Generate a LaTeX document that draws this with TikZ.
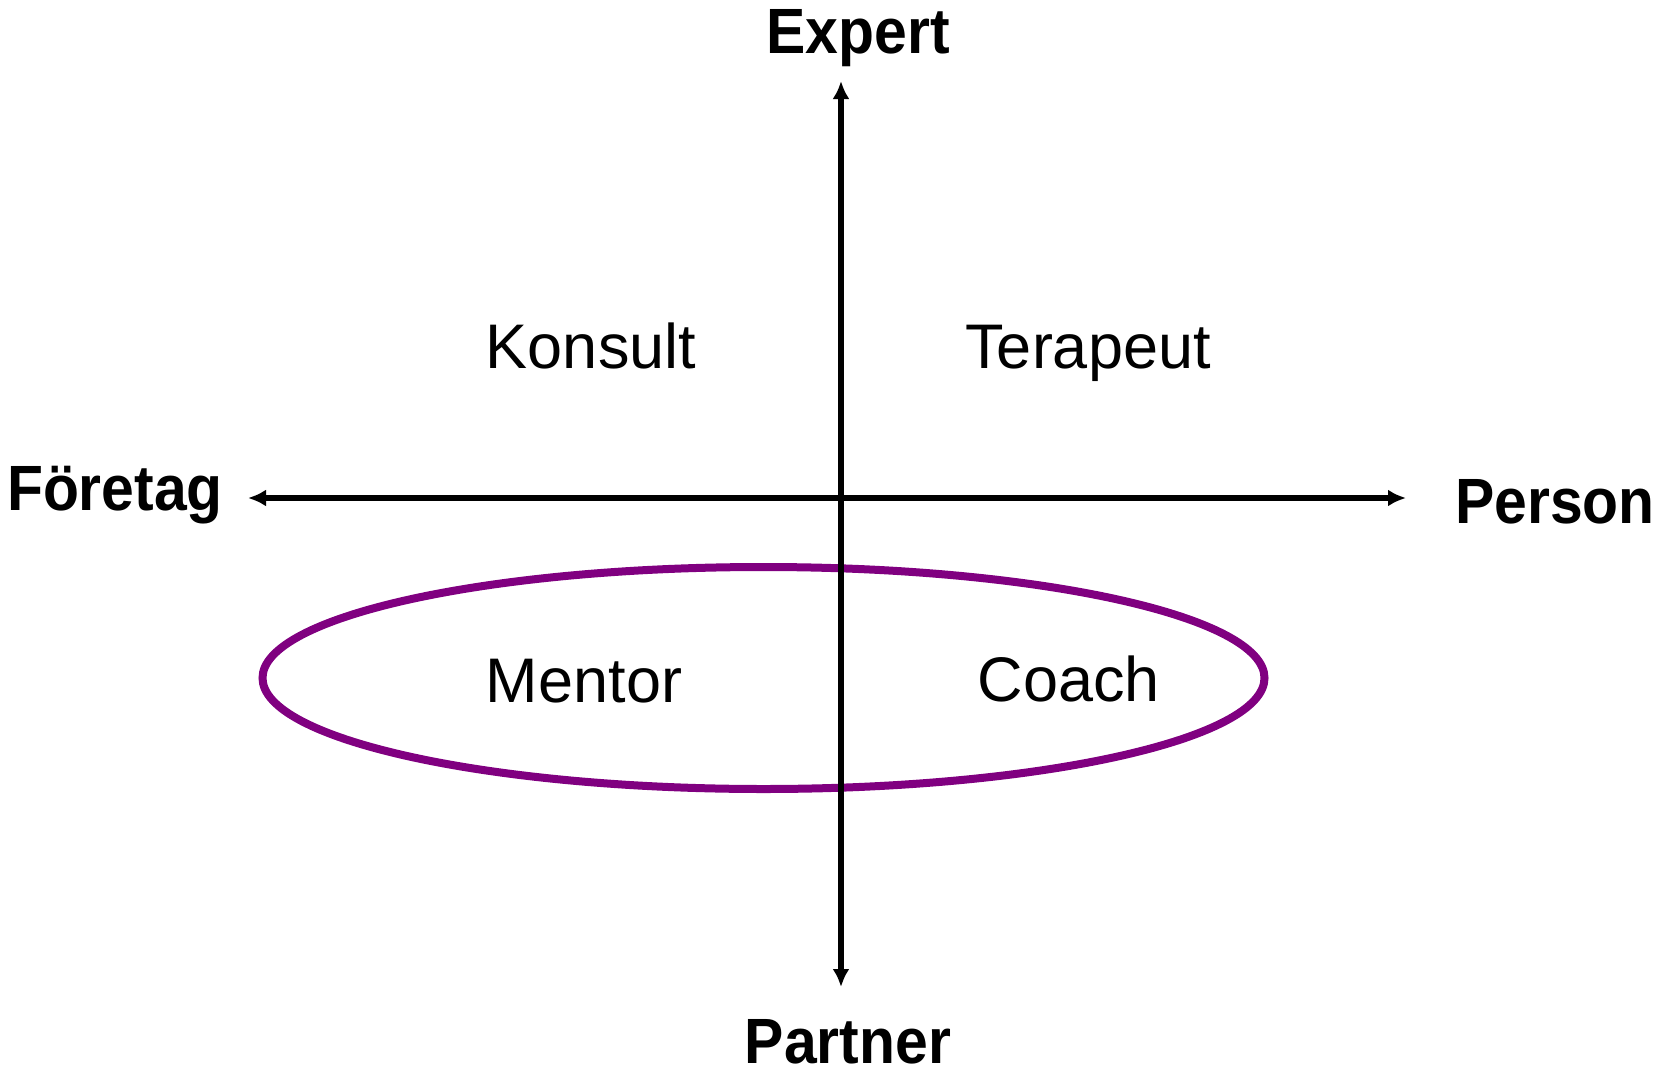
\documentclass[tikz,border=0pt]{standalone}
\usepackage{fontspec}
\setmainfont{Liberation Sans}
\newfontfamily\axisfont{Liberation Sans}[FakeStretch=0.92]
\usetikzlibrary{arrows.meta}
\definecolor{lila}{RGB}{128,0,128}
\begin{document}
\begin{tikzpicture}[x=1pt, y=-1pt, >={Latex[length=18pt, width=17pt]},
    axislabel/.style={inner sep=0, anchor=base, font=\axisfont\bfseries\fontsize{64}{64}\selectfont},
    role/.style={inner sep=0, anchor=base, font=\fontsize{63}{63}\selectfont}]
    \useasboundingbox (0, 0) rectangle (1657, 1071);
    \draw (858, 53) node (ex) [axislabel] {Expert}
          (848, 1063) node (pa) [axislabel] {Partner}
          (115, 510) node (fo) [axislabel] {Företag}
          (1555, 523) node (pe) [axislabel] {Person};
    \draw (591, 368) node (ko) [role] {Konsult}
          (1088, 368) node (te) [role] {Terapeut}
          (584, 702) node (me) [role] {Mentor}
          (1069, 701) node (co) [role] {Coach};
    \draw[lila, line width=8pt] (763.5, 678) ellipse [x radius=501, y radius=111];
    \coordinate (up) at (841, 81);
    \coordinate (dn) at (841, 987);
    \coordinate (lf) at (248, 498);
    \coordinate (rt) at (1406, 498);
    \draw[line width=5.5pt, <->] (up) -- (dn);
    \draw[line width=5.5pt, <->] (lf) -- (rt);
  \end{tikzpicture}
\end{document}
